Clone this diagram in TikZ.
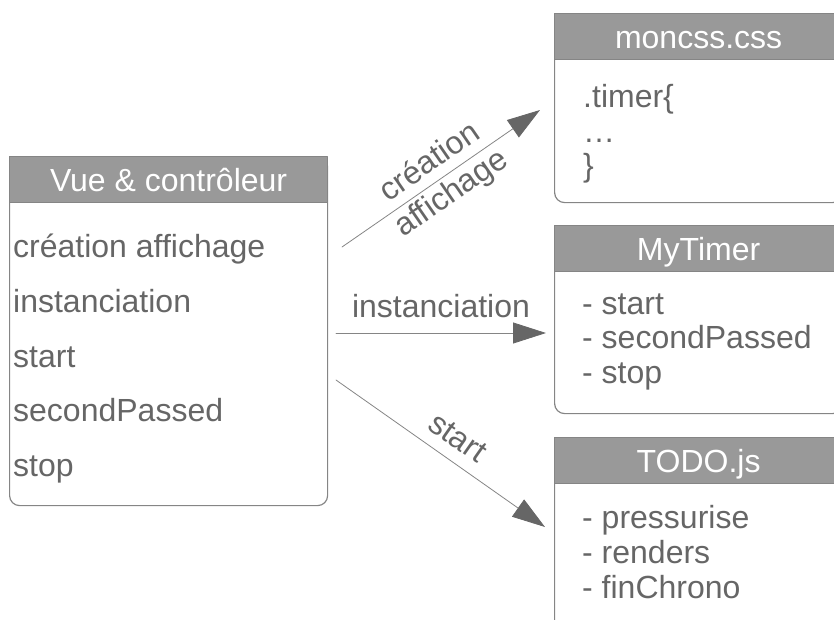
\documentclass[tikz,border=0pt]{standalone}
\usepackage{fontspec}
\setmainfont{Liberation Sans}
\usetikzlibrary{arrows.meta,positioning}
\definecolor{hdgray}{HTML}{999999}
\definecolor{lngray}{HTML}{858585}
\definecolor{txgray}{HTML}{666666}
\begin{document}
\begin{tikzpicture}[x=1pt, y=-1pt, font=\fontsize{32}{35}\selectfont, line join=round, line cap=round,
    >={Triangle[length=33pt,width=21pt,color=txgray]},
    body/.style={draw=lngray, line width=1.2pt, rounded corners=10pt, anchor=north west, inner sep=0pt},
    head/.style={draw=lngray, fill=hdgray, line width=1.2pt, text=white, anchor=north west,
      minimum height=46pt, text height=23pt, text depth=0pt, inner sep=0pt},
    item/.style={anchor=base west, inner sep=0pt, text=txgray},
    flow/.style={->, draw=lngray, line width=0.8pt},
    lbl/.style={inner sep=0pt, text=txgray}]
  \useasboundingbox (0,0) rectangle (834,619);
  \clip (0,0) rectangle (834,619);

  \node[body, minimum width=318pt, minimum height=349pt] (vcbody) at (9,156) {};
  \node[head, minimum width=318pt] (vchead) at (9,156) {Vue \& contrôleur};
  \node[item] (vcshow) at (13,257) {création affichage};
  \node[item] (vcinst) at (13,312) {instanciation};
  \node[item] (vcstart) at (13,367) {start};
  \node[item] (vcsec) at (13,421) {secondPassed};
  \node[item] (vcstop) at (13,476) {stop};

  \node[body, minimum width=288pt, minimum height=189pt] (cssbody) at (554,13) {};
  \node[head, minimum width=288pt] (csshead) at (554,13) {moncss.css};
  \node[item] (csstimer) at (583,107) {.timer\{};
  \node[item] (cssdots) at (583,142) {…};
  \node[item] (cssclose) at (583,176) {\}};

  \node[body, minimum width=288pt, minimum height=188pt] (tmbody) at (554,225) {};
  \node[head, minimum width=288pt] (tmhead) at (554,225) {MyTimer};
  \node[item] (tmstart) at (582,314) {- start};
  \node[item] (tmsec) at (582,348.5) {- secondPassed};
  \node[item] (tmstop) at (582,383) {- stop};

  \node[body, minimum width=288pt, minimum height=250pt] (tdbody) at (554,437) {};
  \node[head, minimum width=288pt] (tdhead) at (554,437) {TODO.js};
  \node[item] (tdpress) at (582,528) {- pressurise};
  \node[item] (tdrend) at (582,563) {- renders};
  \node[item] (tdfin) at (582,598) {- finChrono};

  \coordinate (showfrom) at (342,247);
  \coordinate (showto) at (540,110);
  \coordinate (instfrom) at (336,333);
  \coordinate (instto) at (546,333);
  \coordinate (startfrom) at (336,380);
  \coordinate (startto) at (545,527);

  \draw[flow] (showfrom) -- node[lbl, sloped, align=center, font=\fontsize{32}{38}\selectfont] (showlbl) {création\\affichage} (showto);
  \draw[flow] (instfrom) -- node[lbl, above=15pt] (instlbl) {instanciation} (instto);
  \draw[flow] (startfrom) -- node[lbl, sloped, above=12pt, pos=0.52] (startlbl) {start} (startto);
\end{tikzpicture}
\end{document}
